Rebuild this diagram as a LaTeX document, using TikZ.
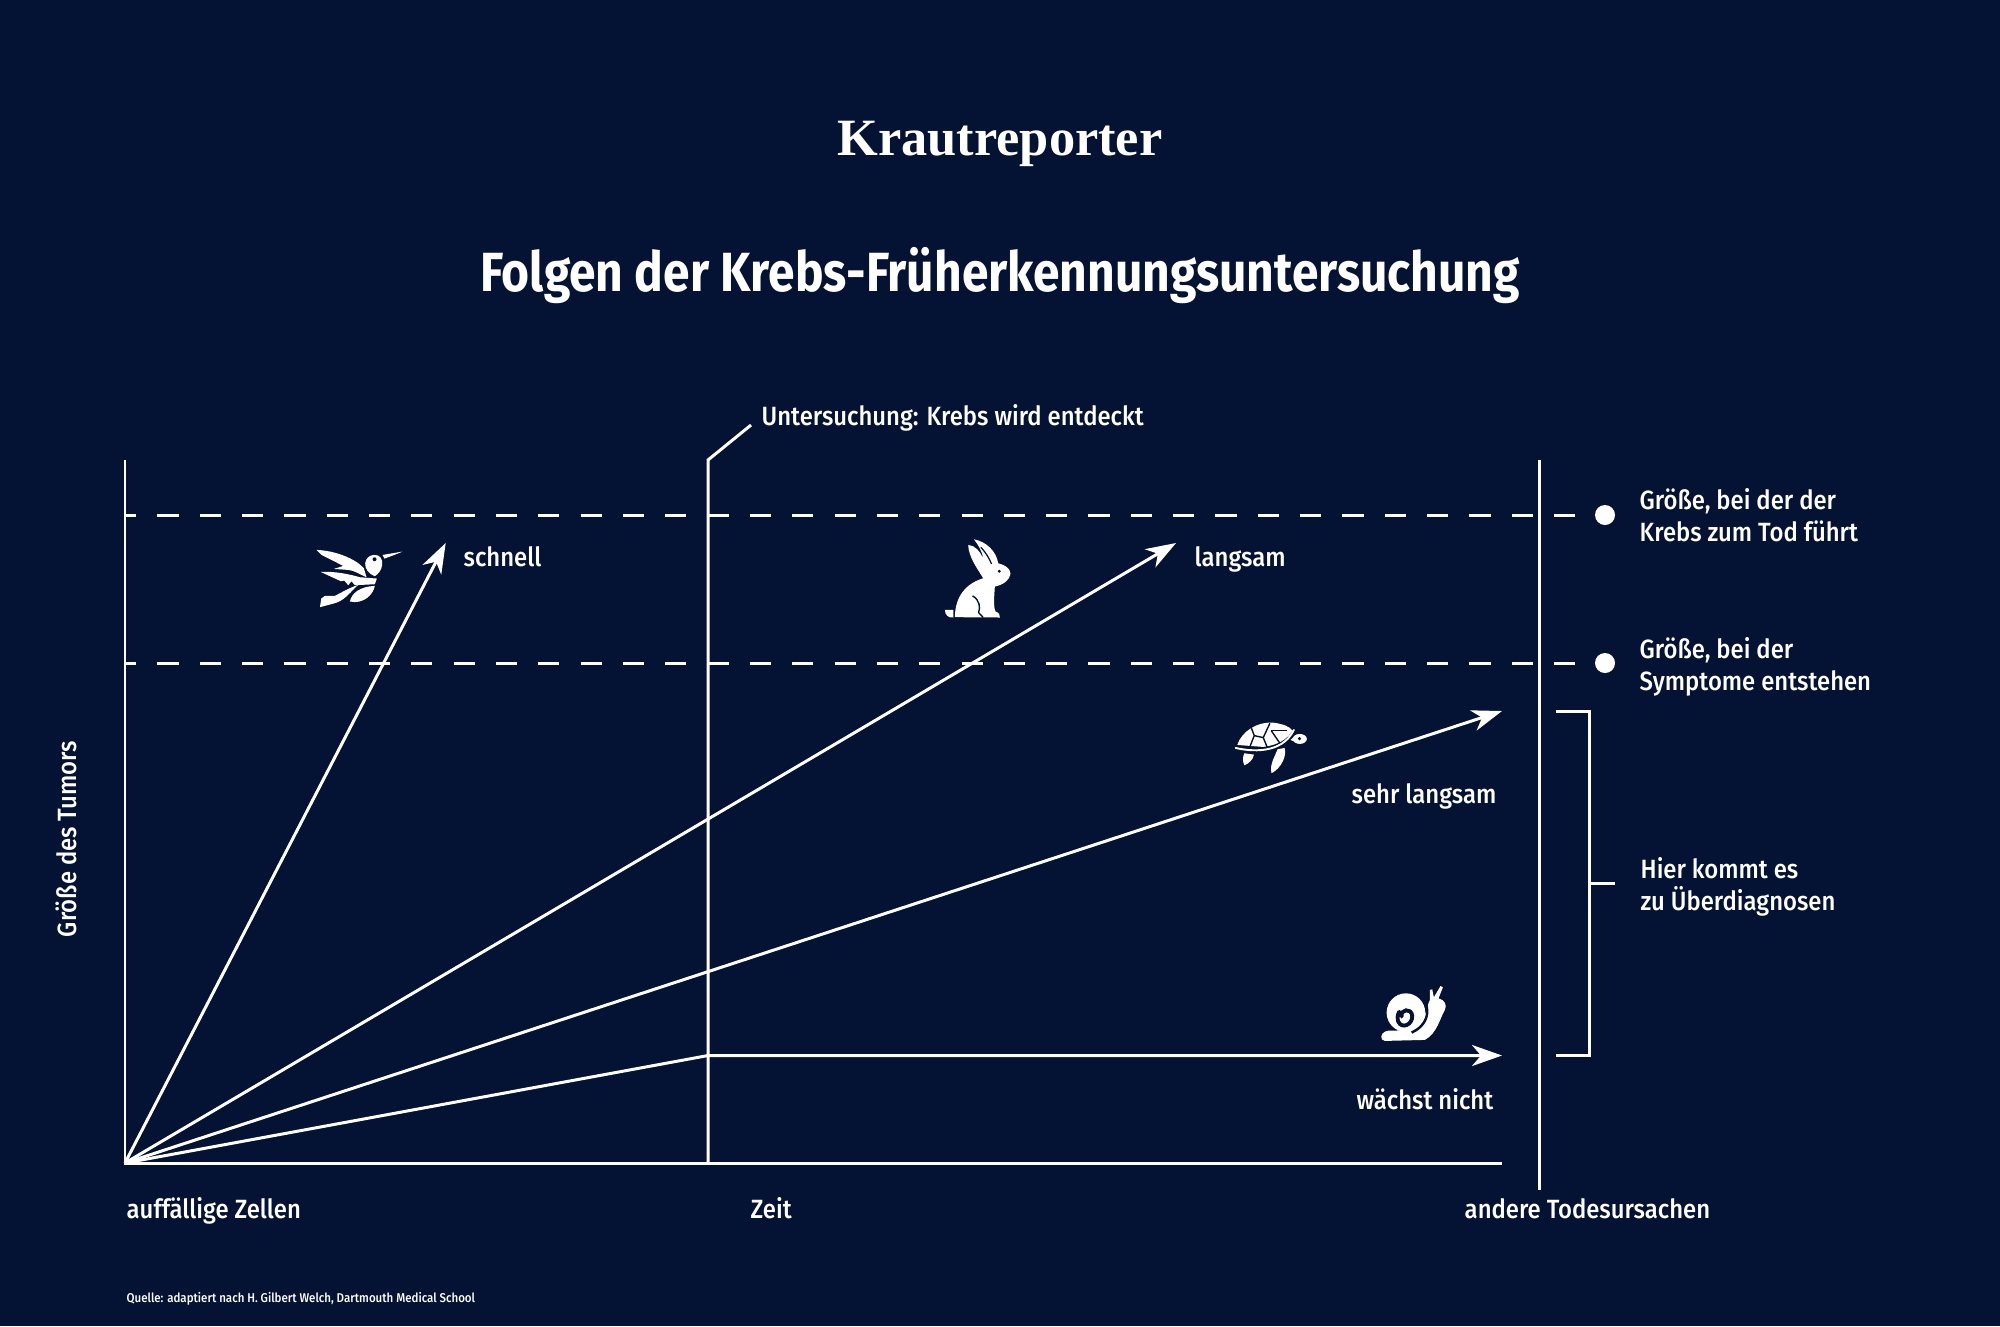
\documentclass[tikz,border=0pt]{standalone}
\usepackage{fontspec}
\setsansfont[FakeStretch=0.905]{Fira Sans Medium}
\newfontfamily\titlefont[FakeStretch=0.868]{Fira Sans Bold}
\newfontfamily\logofont{Liberation Serif}
\usetikzlibrary{arrows.meta}
\definecolor{navy}{RGB}{4,18,52}
\tikzstyle{axis} = [line width=0.85pt, draw=white]
\tikzstyle{arrow} = [line width=0.85pt, draw=white, -{Stealth[length=0.3cm, width=0.21cm, inset=0.09cm]}]
\tikzstyle{guide} = [line width=0.85pt, draw=white, dash pattern=on 0.212cm off 0.211cm, dash phase=0.1cm]
\tikzstyle{dot} = [circle, fill=white, minimum size=0.2cm, inner sep=0pt]
\tikzstyle{lab} = [text=white, font=\sffamily\fontsize{7.5}{9.1}\selectfont, inner sep=0pt, align=left, anchor=base west]
\tikzstyle{icon} = [x=0.003333cm, y=-0.003333cm]
\begin{document}
\begin{tikzpicture}[x=0.01cm, y=-0.01cm]
\fill[navy] (0,0) rectangle (2000,1326);

%==============================================
%Titel
%==============================================
\node (logo) [text=white, font=\logofont\bfseries\fontsize{14.9}{18}\selectfont, inner sep=0pt, anchor=base] at (1000,155) {Krautreporter};
\node (title) [text=white, font=\titlefont\fontsize{15.7}{19}\selectfont, inner sep=0pt, anchor=base] at (1000,291) {Folgen der Krebs-Früherkennungsuntersuchung};

%Achsen==============================================
\coordinate (origin) at (125,1163);
\coordinate (ytop) at (125,460);
\coordinate (xend) at (1502,1163);
\coordinate (exambot) at (708,1163);
\coordinate (examtop) at (708,460);
\coordinate (examflag) at (751,425);
\coordinate (deathtop) at (1539.5,460);
\coordinate (deathbot) at (1539.5,1190);
\draw [axis] (ytop) -- (origin) -- (xend);
\draw [axis] (exambot) -- (examtop) -- (examflag);
\draw [axis] (deathtop) -- (deathbot);

%Schwellen==============================================
\node (dot1) [dot] at (1605,515) {};
\node (dot2) [dot] at (1605,663) {};
\coordinate (left1) at (125,515);
\coordinate (left2) at (125,663);
\draw [guide] (left1) -- (dot1);
\draw [guide] (left2) -- (dot2);

%Pfeile==============================================
\coordinate (tipfast) at (445.7,543);
\coordinate (tipslow) at (1176,543);
\coordinate (tipvslow) at (1502,711);
\coordinate (knick) at (708,1055.5);
\coordinate (tipnone) at (1502,1055.5);
\draw [arrow] (origin) -- (tipfast);
\draw [arrow] (origin) -- (tipslow);
\draw [arrow] (origin) -- (tipvslow);
\draw [arrow] (origin) -- (knick) -- (tipnone);

%Klammer==============================================
\coordinate (brtop) at (1556,711);
\coordinate (brtopr) at (1589,711);
\coordinate (brbot) at (1556,1055.5);
\coordinate (brbotr) at (1589,1055.5);
\coordinate (brmid) at (1589,883);
\coordinate (brtick) at (1615,883);
\draw [axis] (brtop) -- (brtopr) -- (brbotr) -- (brbot);
\draw [axis] (brmid) -- (brtick);

%Texte==============================================
\node (exam) [lab] at (761,425) {Untersuchung: Krebs wird entdeckt};
\node (fast) [lab] at (463,566) {schnell};
\node (slow) [lab] at (1194,566) {langsam};
\node (vslow) [lab, anchor=base east] at (1497,803) {sehr langsam};
\node (none) [lab, anchor=base east] at (1494,1109) {wächst nicht};
\node (death) [lab] at (1639,541.5) {Größe, bei der der\\Krebs zum Tod führt};
\node (sympt) [lab] at (1639,690) {Größe, bei der\\Symptome entstehen};
\node (over) [lab] at (1640,910) {Hier kommt es\\zu Überdiagnosen};
\node (yaxis) [lab, anchor=base, rotate=90] at (77,839) {Größe des Tumors};
\node (start) [lab] at (126,1218) {auffällige Zellen};
\node (time) [lab] at (750,1218) {Zeit};
\node (other) [lab] at (1464,1218) {andere Todesursachen};
\node (source) [lab, font=\sffamily\fontsize{3.62}{4}\selectfont] at (126,1302) {Quelle: adaptiert nach H. Gilbert Welch, Dartmouth Medical School};

%Kolibri==============================================
\begin{scope}[shift={(280,500)}, icon]
\fill[white] (308,165) -- (368,155) .. controls (345,165) and (330,170) .. (314,176) -- cycle;
\fill[white] (282,165) .. controls (300,163) and (310,178) .. (307,195) .. controls (305,212) and (295,222) .. (285,229) .. controls (265,222) and (255,205) .. (256,190) .. controls (258,175) and (268,166) .. (282,165) -- cycle;
\fill[navy] (284,178) circle (6);
\fill[white] (110,150) .. controls (165,152) and (225,175) .. (252,205) -- (260,232) .. controls (240,224) and (225,212) .. (205,210) -- (162,207) -- (190,198) -- (125,165) -- cycle;
\fill[white] (122,216) .. controls (165,214) and (205,222) .. (240,232) -- (291,236) -- (285,253) -- (225,256) -- (215,244) -- (205,256) -- (193,242) -- (183,244) -- cycle;
\fill[white] (120,322) -- (124,296) -- (135,288) -- (165,288) .. controls (185,278) and (205,265) .. (235,255) .. controls (215,272) and (195,302) .. (165,310) -- cycle;
\fill[white] (210,305) .. controls (215,280) and (240,260) .. (285,258) .. controls (280,285) and (250,314) .. (210,305) -- cycle;
\end{scope}

%Hase==============================================
\begin{scope}[shift={(900,510)}, icon]
\fill[white] (165,322) .. controls (165,275) and (185,225) .. (250,205) .. controls (235,180) and (205,140) .. (205,105) .. controls (225,105) and (240,125) .. (250,145) .. controls (245,120) and (235,105) .. (222,88) .. controls (260,95) and (290,125) .. (295,160) .. controls (315,165) and (332,175) .. (332,192) .. controls (330,210) and (310,225) .. (285,230) .. controls (283,260) and (280,290) .. (287,305) .. controls (297,308) and (302,316) .. (300,323) -- cycle;
\fill[white] (135,300) -- (160,300) -- (160,323) .. controls (145,325) and (135,315) .. (135,300) -- cycle;
\draw[navy, line width=0.35pt] (243,112) .. controls (258,128) and (268,145) .. (275,162);
\draw[navy, line width=0.4pt] (218,258) .. controls (240,270) and (242,295) .. (236,308) -- (250,323);
\fill[navy] (298,184) circle (5);
\end{scope}

%Schildkroete==============================================
\begin{scope}[shift={(1200,690)}, icon]
\fill[white] (112,165) .. controls (125,125) and (170,95) .. (220,98) .. controls (250,102) and (270,110) .. (278,122) .. controls (262,148) and (235,165) .. (190,171) -- cycle;
\draw[white, line width=0.55pt, line cap=round] (107,174) .. controls (150,184) and (245,195) .. (282,120);
\draw[navy, line width=0.4pt] (150,103) -- (163,137) -- (150,170);
\draw[navy, line width=0.4pt] (163,137) -- (190,143) -- (210,100);
\draw[navy, line width=0.4pt] (190,143) -- (202,172);
\draw[navy, line width=0.4pt] (214,122) -- (262,122);
\draw[navy, line width=0.4pt] (214,122) -- (240,160);
\fill[white] (300,147) ellipse (21 and 15);
\fill[white] (272,150) -- (290,133) -- (295,160) -- cycle;
\fill[navy] (299,146) circle (5);
\fill[white] (133,190) -- (162,194) .. controls (160,210) and (145,222) .. (133,226) .. controls (128,215) and (128,200) .. (133,190) -- cycle;
\fill[white] (233,178) -- (254,174) .. controls (262,195) and (245,235) .. (215,250) .. controls (208,225) and (225,200) .. (233,178) -- cycle;
\end{scope}

%Schnecke==============================================
\begin{scope}[shift={(1350,970)}, icon]
\fill[white] (94,200) .. controls (96,186) and (110,180) .. (130,182) -- (205,180) .. controls (225,150) and (228,115) .. (240,90) -- (240,60) -- (247,58) -- (252,82) -- (272,48) -- (279,52) -- (266,85) .. controls (285,90) and (292,105) .. (285,120) .. controls (270,145) and (262,190) .. (225,210) -- (105,213) .. controls (97,212) and (93,207) .. (94,200) -- cycle;
\fill[white] (168,128) circle (58);
\draw[navy, line width=0.7pt] (185,188) .. controls (215,175) and (232,150) .. (232,125) .. controls (232,105) and (226,95) .. (218,85);
\draw[navy, line width=1.1pt, line cap=round] (155,140) .. controls (150,118) and (185,112) .. (187,138) .. controls (188,165) and (155,178) .. (145,155) .. controls (142,148) and (142,135) .. (148,125);
\end{scope}
\end{tikzpicture}
\end{document}
